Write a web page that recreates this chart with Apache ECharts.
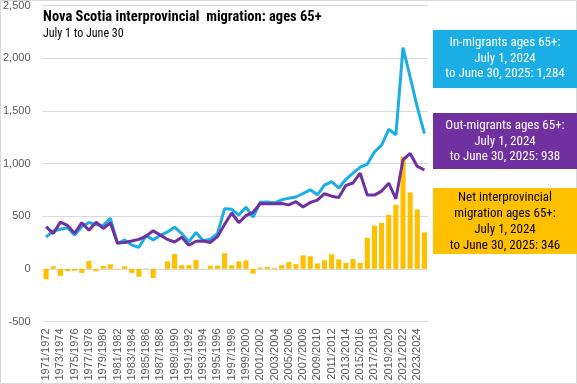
<!DOCTYPE html>
<html>
<head>
<meta charset="utf-8">
<script src="https://cdn.jsdelivr.net/npm/echarts@6/dist/echarts.min.js"></script>
<style>
html,body{margin:0;padding:0;background:#fff;}
#chart{width:577px;height:384px;}
</style>
</head>
<body>
<div id="chart"></div>
<script>
var categories = [
"1971/1972","1972/1973","1973/1974","1974/1975","1975/1976","1976/1977","1977/1978","1978/1979","1979/1980","1980/1981",
"1981/1982","1982/1983","1983/1984","1984/1985","1985/1986","1986/1987","1987/1988","1988/1989","1989/1990","1990/1991",
"1991/1992","1992/1993","1993/1994","1994/1995","1995/1996","1996/1997","1997/1998","1998/1999","1999/2000","2000/2001",
"2001/2002","2002/2003","2003/2004","2004/2005","2005/2006","2006/2007","2007/2008","2008/2009","2009/2010","2010/2011",
"2011/2012","2012/2013","2013/2014","2014/2015","2015/2016","2016/2017","2017/2018","2018/2019","2019/2020","2020/2021",
"2021/2022","2022/2023","2023/2024","2024/2025"];

var inMigrants = [
300,360,375,390,320,400,440,420,410,480,
240,275,225,205,315,275,318,350,395,335,
258,345,268,280,335,570,565,510,585,490,
632,635,627,655,671,682,715,750,703,795,
828,768,850,908,965,995,1110,1175,1325,1272,
2100,1820,1535,1284];

var outMigrants = [
400,335,443,412,338,438,366,443,383,437,
245,250,264,280,310,362,320,279,255,300,
224,262,265,250,305,422,530,438,505,537,
620,617,618,620,607,637,587,630,652,713,
690,678,793,815,908,700,700,738,813,665,
1035,1095,972,938];

var netMigration = [
-100,25,-68,-22,-18,-38,74,-23,27,43,
-5,25,-39,-75,5,-87,-2,71,140,35,
34,83,3,30,30,148,35,72,80,-47,
12,18,9,35,64,45,128,120,51,82,
138,90,57,93,57,295,410,437,512,607,
1065,725,563,346];

var yTicks = [-500, 0, 500, 1000, 1500, 2000, 2500];

var titleText = "Nova Scotia interprovincial  migration: ages 65+";
var subtitleText = "July 1 to June 30";
var inBoxLines = ["In-migrants ages 65+:", "July 1, 2024", "to June 30, 2025: 1,284"];
var outBoxLines = ["Out-migrants ages 65+:", "July 1, 2024", "to June 30, 2025: 938"];
var netBoxLines = ["Net interprovincial", "migration ages 65+:", "July 1, 2024", "to June 30, 2025: 346"];

var FONT = "'Liberation Sans Narrow','Roboto Condensed','Roboto',sans-serif";
var BLUE = "#1AAEE5", PURPLE = "#7030A0", GOLD = "#FFC000";

function box(y, h, color, lines, textColor, lineH, firstY) {
  var els = [{type:'rect', shape:{x:433, y:y, width:144, height:h}, style:{fill:color}}];
  lines.forEach(function(t, k){
    els.push({type:'text', x:505, y:firstY + k*lineH,
      style:{text:t, fill:textColor, font:"13px " + FONT, textAlign:'center', textVerticalAlign:'middle'}});
  });
  return els;
}

var chart = echarts.init(document.getElementById('chart'), null, {renderer:'canvas'});
var graphics = [
  {type:'rect', shape:{x:0.5, y:0.5, width:576, height:383}, style:{fill:'none', stroke:'#d9d9d9', lineWidth:1}, z:-10},
  {type:'text', x:43, y:17, z:10, style:{text:titleText, fill:'#000', font:"bold 14.5px " + FONT, textVerticalAlign:'middle'}},
  {type:'text', x:43, y:34, z:10, style:{text:subtitleText, fill:'#000', font:"12px " + FONT, textVerticalAlign:'middle'}}
].concat(box(30, 58, BLUE, inBoxLines, '#fff', 15.5, 43))
 .concat(box(113, 56, PURPLE, outBoxLines, '#fff', 15.5, 126))
 .concat(box(188, 66, GOLD, netBoxLines, '#000', 16, 198));

chart.setOption({
  animation:false,
  grid:{left:42, right:149, top:5.5, bottom:62.5, containLabel:false},
  graphic:graphics,
  xAxis:{
    type:'category', data:categories, position:'bottom',
    axisLine:{show:false}, axisTick:{show:false},
    axisLabel:{rotate:90, interval:1, color:'#595959', fontSize:11, fontFamily:'Liberation Sans, Arial, sans-serif', margin:7}
  },
  yAxis:{
    type:'value', min:yTicks[0], max:yTicks[yTicks.length-1], interval:500,
    axisLine:{show:false}, axisTick:{show:false},
    splitLine:{lineStyle:{color:'#d9d9d9', width:1}},
    axisLabel:{color:'#595959', fontSize:11, fontFamily:'Liberation Sans, Arial, sans-serif', margin:12,
      formatter:function(v){ return v.toLocaleString('en-US'); }}
  },
  series:[
    {name:'Net', type:'bar', data:netMigration, barWidth:'72%', itemStyle:{color:GOLD}, z:1},
    {name:'In-migrants', type:'line', data:inMigrants, showSymbol:false, symbol:'none',
      lineStyle:{color:BLUE, width:3}, itemStyle:{color:BLUE}, z:3},
    {name:'Out-migrants', type:'line', data:outMigrants, showSymbol:false, symbol:'none',
      lineStyle:{color:PURPLE, width:3}, itemStyle:{color:PURPLE}, z:4}
  ]
});
</script>
</body>
</html>
